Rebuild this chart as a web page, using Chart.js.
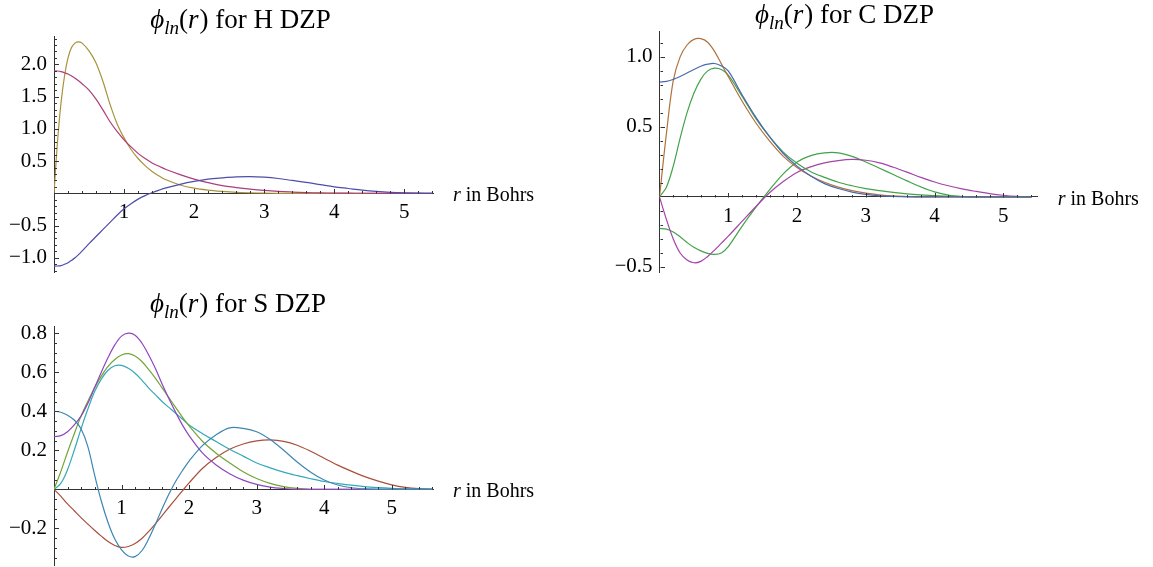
<!DOCTYPE html>
<html>
<head>
<meta charset="utf-8">
<title>Radial functions, DZP basis</title>
<script src="https://cdn.jsdelivr.net/npm/chart.js@4.4.1/dist/chart.umd.min.js"></script>
<style>
  html, body { margin: 0; padding: 0; background: #fff; }
  #page { position: relative; width: 1153px; height: 567px; overflow: hidden; }
  canvas { position: absolute; }
</style>
</head>
<body>
<div id="page">
  <canvas id="chartH" width="576" height="292" style="left:0;top:0"></canvas>
  <canvas id="chartC" width="573" height="292" style="left:580px;top:0"></canvas>
  <canvas id="chartS" width="576" height="300" style="left:0;top:285px"></canvas>
</div>
<script>
// ---- data: r in Bohrs and phi_ln(r) for each orbital ----

// Hydrogen
const rH = [0, 0.05, 0.1, 0.15, 0.2, 0.25, 0.3, 0.35, 0.4, 0.5, 0.6, 0.7, 0.8, 0.9, 1.0, 1.1, 1.2, 1.3, 1.4, 1.5,
            1.6, 1.8, 2.0, 2.2, 2.4, 2.6, 2.8, 3.0, 3.2, 3.4, 3.6, 3.8, 4.0, 4.2, 4.4, 4.6, 4.8, 5.0, 5.2, 5.4];
const hBlue = [-1.13, -1.127, -1.12, -1.10, -1.075, -1.04, -1.0, -0.95, -0.895, -0.78, -0.67, -0.56, -0.45, -0.34, -0.24, -0.16, -0.09, -0.035, 0.01, 0.05,
               0.085, 0.14, 0.185, 0.22, 0.24, 0.255, 0.26, 0.25, 0.23, 0.2, 0.17, 0.135, 0.10, 0.075, 0.05, 0.03, 0.015, 0.006, 0.002, 0];
const hMagenta = [1.90, 1.897, 1.888, 1.87, 1.85, 1.82, 1.785, 1.745, 1.70, 1.60, 1.46, 1.29, 1.11, 0.96, 0.83, 0.72, 0.62, 0.54, 0.47, 0.42,
                  0.37, 0.29, 0.22, 0.165, 0.12, 0.09, 0.065, 0.045, 0.03, 0.02, 0.012, 0.007, 0.004, 0.002, 0.001, 0, 0, 0, 0, 0];
const hOlive = [0, 0.8, 1.4, 1.82, 2.1, 2.26, 2.33, 2.35, 2.33, 2.21, 2.02, 1.73, 1.38, 1.08, 0.86, 0.68, 0.54, 0.43, 0.34, 0.27,
                0.21, 0.13, 0.08, 0.05, 0.03, 0.015, 0.008, 0.003, 0, 0, 0, 0, 0, 0, 0, 0, 0, 0, 0, 0];

// Carbon
const rC = [0, 0.1, 0.2, 0.3, 0.4, 0.5, 0.6, 0.7, 0.8, 0.9, 1.0, 1.2, 1.4, 1.6, 1.8, 2.0, 2.2, 2.4, 2.6, 2.8,
            3.0, 3.2, 3.4, 3.6, 3.8, 4.0, 4.2, 4.4, 4.6, 4.8, 5.0, 5.2, 5.4];
const cBlue = [0.82, 0.825, 0.84, 0.86, 0.885, 0.91, 0.933, 0.948, 0.953, 0.935, 0.90, 0.73, 0.57, 0.43, 0.31, 0.22, 0.15, 0.095, 0.06, 0.035,
               0.018, 0.008, 0.003, 0, 0, 0, 0, 0, 0, 0, 0, 0, 0];
const cBrown = [0, 0.45, 0.83, 1.0, 1.085, 1.125, 1.13, 1.105, 1.04, 0.95, 0.86, 0.685, 0.53, 0.40, 0.29, 0.21, 0.15, 0.105, 0.07, 0.045,
                0.027, 0.015, 0.007, 0.003, 0, 0, 0, 0, 0, 0, 0, 0, 0];
const cGreenA = [0, 0.07, 0.22, 0.42, 0.6, 0.74, 0.84, 0.90, 0.92, 0.91, 0.87, 0.72, 0.56, 0.43, 0.32, 0.24, 0.18, 0.14, 0.105, 0.08,
                 0.06, 0.045, 0.032, 0.022, 0.015, 0.01, 0.005, 0.002, 0, 0, 0, 0, 0];
const cMagenta = [0, -0.16, -0.3, -0.4, -0.45, -0.47, -0.46, -0.425, -0.38, -0.33, -0.28, -0.175, -0.07, 0.03, 0.11, 0.175, 0.215, 0.243, 0.26, 0.268,
                  0.262, 0.243, 0.212, 0.177, 0.14, 0.107, 0.08, 0.058, 0.04, 0.024, 0.012, 0.004, 0];
const cGreenB = [-0.225, -0.23, -0.25, -0.285, -0.325, -0.36, -0.385, -0.403, -0.41, -0.40, -0.355, -0.21, -0.075, 0.05, 0.165, 0.25, 0.295, 0.315, 0.315, 0.29,
                 0.25, 0.205, 0.16, 0.115, 0.072, 0.036, 0.013, 0.003, 0, 0, 0, 0, 0];

// Sulphur
const rS = [0, 0.1, 0.2, 0.3, 0.4, 0.5, 0.6, 0.7, 0.8, 0.9, 1.0, 1.1, 1.2, 1.3, 1.4, 1.5, 1.6, 1.7, 1.8, 1.9,
            2.0, 2.2, 2.4, 2.6, 2.8, 3.0, 3.2, 3.4, 3.6, 3.8, 4.0, 4.2, 4.4, 4.6, 4.8, 5.0, 5.2, 5.4, 5.6];
const sBlue = [0.40, 0.395, 0.38, 0.355, 0.31, 0.22, 0.075, -0.06, -0.17, -0.255, -0.31, -0.342, -0.345, -0.315, -0.255, -0.18, -0.10, -0.025, 0.04, 0.095,
               0.145, 0.225, 0.28, 0.315, 0.312, 0.295, 0.255, 0.2, 0.14, 0.088, 0.048, 0.022, 0.008, 0.002, 0, 0, 0, 0, 0];
const sPurple = [0.27, 0.275, 0.295, 0.33, 0.375, 0.44, 0.52, 0.6, 0.675, 0.74, 0.785, 0.80, 0.79, 0.75, 0.69, 0.62, 0.54, 0.465, 0.395, 0.33,
                 0.275, 0.185, 0.125, 0.08, 0.047, 0.025, 0.011, 0.004, 0, 0, 0, 0, 0, 0, 0, 0, 0, 0, 0];
const sGreen = [0, 0.09, 0.19, 0.285, 0.375, 0.45, 0.52, 0.58, 0.63, 0.665, 0.688, 0.695, 0.683, 0.655, 0.615, 0.57, 0.52, 0.47, 0.42, 0.37,
                0.325, 0.245, 0.185, 0.135, 0.09, 0.055, 0.03, 0.014, 0.005, 0, 0, 0, 0, 0, 0, 0, 0, 0, 0];
const sTeal = [0, 0.03, 0.1, 0.2, 0.31, 0.41, 0.5, 0.565, 0.61, 0.633, 0.635, 0.62, 0.595, 0.56, 0.52, 0.485, 0.45, 0.42, 0.39, 0.36,
               0.33, 0.285, 0.245, 0.205, 0.17, 0.135, 0.11, 0.088, 0.07, 0.054, 0.04, 0.03, 0.021, 0.014, 0.009, 0.005, 0.002, 0.001, 0];
const sRed = [0, -0.035, -0.075, -0.11, -0.145, -0.178, -0.21, -0.24, -0.268, -0.288, -0.298, -0.293, -0.278, -0.252, -0.217, -0.177, -0.135, -0.092, -0.05, -0.008,
              0.033, 0.108, 0.163, 0.205, 0.232, 0.248, 0.253, 0.246, 0.226, 0.195, 0.159, 0.124, 0.093, 0.065, 0.042, 0.023, 0.01, 0.003, 0];

// ---- styling ----
const FONT = '"Liberation Serif", "Times New Roman", serif';
const AXIS_COLOR = '#333';
Chart.defaults.font.family = FONT;
Chart.defaults.color = '#000';

const fmtY = v => Math.abs(v) < 1e-9 ? '' : v.toFixed(1).replace('-', '\u2212');
const fmtX = v => Math.abs(v) < 1e-9 ? '' : String(v);

// phi_ln(r) for X DZP, with the "ln" dropped to a subscript
function drawTitle(ctx, cx, base, element, size) {
  const roman = size + 'px ' + FONT;
  const ital = 'italic ' + size + 'px ' + FONT;
  const sub = 'italic ' + Math.round(size * 0.72) + 'px ' + FONT;
  const parts = [
    ['\u03D5', ital, 0], ['ln', sub, size * 0.24], ['(', roman, 0],
    ['r', ital, 0], [')', roman, 0], [' for ' + element + ' DZP', roman, 0]
  ];
  let w = 0;
  parts.forEach(p => { ctx.font = p[1]; p.push(ctx.measureText(p[0]).width); w += p[3]; });
  let px = cx - w / 2;
  parts.forEach(p => { ctx.font = p[1]; ctx.fillText(p[0], px, base + p[2]); px += p[3] + (p[0] === 'r' ? 1 : 0); });
}

// Mathematica-style decorations: inward ticks, title, axis label at the end of the r axis
const decorPlugin = {
  id: 'decor',
  afterDraw(chart, args, opts) {
    const {ctx, chartArea: area, scales: {x, y}} = chart;
    const x0 = Math.round(x.getPixelForValue(0)) + 0.5;
    const y0 = Math.round(y.getPixelForValue(0)) + 0.5;
    ctx.save();
    ctx.strokeStyle = AXIS_COLOR;
    ctx.lineWidth = 1;
    ctx.beginPath();
    for (let k = 1; k * opts.xMinor <= x.max + 1e-9; k++) {
      const px = Math.round(x.getPixelForValue(k * opts.xMinor)) + 0.5;
      const len = k % opts.xPer === 0 ? 4.5 : 2.5;
      ctx.moveTo(px, y0); ctx.lineTo(px, y0 - len);
    }
    for (let k = Math.ceil(y.min / opts.yMinor); k * opts.yMinor <= y.max + 1e-9; k++) {
      if (k === 0) continue;
      const py = Math.round(y.getPixelForValue(k * opts.yMinor)) + 0.5;
      const len = k % opts.yPer === 0 ? 4.5 : 2.5;
      ctx.moveTo(x0, py); ctx.lineTo(x0 + len, py);
    }
    ctx.stroke();

    ctx.fillStyle = '#000';
    ctx.textAlign = 'left';
    ctx.textBaseline = 'alphabetic';
    drawTitle(ctx, opts.titleX, opts.titleY, opts.element, opts.titleSize);

    // "r in Bohrs"
    let lx = area.right + 20;
    const ly = y0 + 7.5;
    ctx.font = 'italic 20px ' + FONT;
    ctx.fillText('r', lx, ly);
    lx += ctx.measureText('r').width;
    ctx.font = '20px ' + FONT;
    ctx.fillText(' in Bohrs', lx, ly);
    ctx.restore();
  }
};

function makeChart(id, r, series, cfg) {
  return new Chart(document.getElementById(id), {
    type: 'line',
    data: {
      datasets: series.map(s => ({
        data: r.map((v, i) => ({x: v, y: s.values[i]})),
        borderColor: s.color,
        borderWidth: 1.2,
        pointRadius: 0,
        fill: false,
        tension: 0.35
      }))
    },
    options: {
      responsive: false,
      animation: false,
      events: [],
      layout: {padding: cfg.padding},
      plugins: {
        legend: {display: false},
        tooltip: {enabled: false},
        decor: cfg.decor
      },
      scales: {
        x: {
          type: 'linear', min: 0, max: cfg.xMax,
          position: {y: 0},
          grid: {drawOnChartArea: false, drawTicks: false},
          border: {color: AXIS_COLOR, width: 1},
          ticks: {stepSize: 1, includeBounds: false, autoSkip: false, maxRotation: 0, padding: 7,
                  font: {size: 21}, callback: fmtX}
        },
        y: {
          type: 'linear', min: cfg.yMin, max: cfg.yMax,
          position: 'left',
          afterFit: s => { s.width = 44; },
          grid: {drawOnChartArea: false, drawTicks: false},
          border: {color: AXIS_COLOR, width: 1},
          ticks: {stepSize: cfg.yStep, includeBounds: false, autoSkip: false, padding: 7,
                  font: {size: 21}, callback: fmtY}
        }
      }
    },
    plugins: [decorPlugin]
  });
}

makeChart('chartH', rH, [
  {values: hBlue, color: '#4d4dab'},
  {values: hMagenta, color: '#ac3e79'},
  {values: hOlive, color: '#a8923a'}
], {
  xMax: 5.41, yMin: -1.22, yMax: 2.44, yStep: 0.5,
  padding: {left: 10, top: 36, right: 143, bottom: 20},
  decor: {xMinor: 0.2, xPer: 5, yMinor: 0.1, yPer: 5, element: 'H', titleX: 240, titleY: 28, titleSize: 27}
});

makeChart('chartC', rC, [
  {values: cBlue, color: '#4a68b0'},
  {values: cBrown, color: '#b0723c'},
  {values: cGreenA, color: '#42a24a'},
  {values: cMagenta, color: '#a444a8'},
  {values: cGreenB, color: '#42a24a'}
], {
  xMax: 5.5, yMin: -0.536, yMax: 1.18, yStep: 0.5,
  padding: {left: 35.5, top: 31.7, right: 115.3, bottom: 20},
  decor: {xMinor: 0.2, xPer: 5, yMinor: 0.1, yPer: 5, element: 'C', titleX: 264, titleY: 23, titleSize: 27}
});

makeChart('chartS', rS, [
  {values: sBlue, color: '#3d86b4'},
  {values: sPurple, color: '#9045c0'},
  {values: sGreen, color: '#72a535'},
  {values: sTeal, color: '#35a8b8'},
  {values: sRed, color: '#a8503c'}
], {
  xMax: 5.61, yMin: -0.388, yMax: 0.837, yStep: 0.2,
  padding: {left: 10, top: 41, right: 143, bottom: 20},
  decor: {xMinor: 0.2, xPer: 5, yMinor: 0.05, yPer: 4, element: 'S', titleX: 237.5, titleY: 26.7, titleSize: 27}
});
</script>
</body>
</html>
